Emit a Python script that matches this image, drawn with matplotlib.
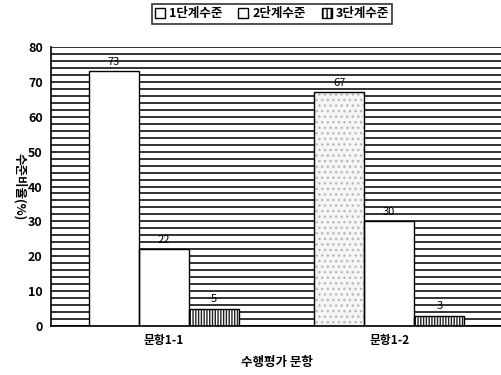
import matplotlib
matplotlib.use("Agg")
import matplotlib.pyplot as plt
import numpy as np

plt.rcParams['font.family'] = ['Noto Sans CJK KR', 'DejaVu Sans']

items = ["문항1-1", "문항1-2"]
levels = ["1단계수준", "2단계수준", "3단계수준"]
level1 = [73, 67]
level2 = [22, 30]
level3 = [5, 3]

fig = plt.figure(figsize=(5.02, 3.75), dpi=100)
ax = fig.add_axes([51/502, 49/375, 451/502, 279/375])

# striped background
for yy in np.arange(0, 81, 2):
    ax.axhline(yy, color="#111111", lw=1.2, zorder=0)

x = np.arange(len(items))
w = 0.222
series = [level1, level2, level3]
offsets = [-w, 0, w]
faces = [["white", "#f6f6f6"], ["white", "white"], ["white", "white"]]
hatches = [["", "..."], ["", ""], ["||||||", "||||||"]]
hatch_cols = [["white", "#b8b8b8"], ["white", "white"], ["#222222", "#222222"]]

for s, vals in enumerate(series):
    for i, v in enumerate(vals):
        xc = x[i] + offsets[s]
        # fill + hatch layer, then a plain outline on top
        ax.bar(xc, v, w, color=faces[s][i], edgecolor=hatch_cols[s][i],
               hatch=hatches[s][i], lw=0, zorder=2)
        ax.bar(xc, v, w, fill=False, edgecolor="black", lw=1.0, zorder=3)
        ax.text(xc, v + 1.2, str(v), ha="center", va="bottom",
                fontsize=8, zorder=3)

ax.set_xlim(-0.5, 1.5)
ax.set_ylim(0, 80)
ax.set_yticks(range(0, 81, 10))
ax.set_xticks(x)
ax.set_xticklabels(items, fontsize=8.5, fontweight="bold")
ax.tick_params(axis="both", length=0, pad=6)
for lab in ax.get_yticklabels():
    lab.set_fontsize(9)
    lab.set_fontweight("bold")
ax.spines["right"].set_visible(False)
ax.spines["top"].set_visible(False)
ax.spines["left"].set_linewidth(1.2)
ax.spines["bottom"].set_linewidth(1.2)

ax.set_xlabel("수행평가 문항", fontsize=9, fontweight="bold", labelpad=6)
ax.set_ylabel("수준비율(%)", fontsize=9, fontweight="bold", rotation=-90,
              labelpad=6, va="bottom")
ax.yaxis.set_label_coords(-0.085, 0.5)

handles = [
    plt.Rectangle((0, 0), 1, 1, facecolor="white", edgecolor="black"),
    plt.Rectangle((0, 0), 1, 1, facecolor="white", edgecolor="black"),
    plt.Rectangle((0, 0), 1, 1, facecolor="white", edgecolor="black", hatch="||||"),
]
leg = fig.legend(handles, levels, loc="center", bbox_to_anchor=(272/502, 1 - 14/375),
                 ncol=3, frameon=True, fancybox=False, edgecolor="black",
                 prop={"size": 9, "weight": "bold"},
                 handlelength=0.8, handleheight=0.8, handletextpad=0.3,
                 columnspacing=1.3, borderpad=0.25)
leg.get_frame().set_linewidth(1.2)

fig.savefig("out.png", dpi=100)
